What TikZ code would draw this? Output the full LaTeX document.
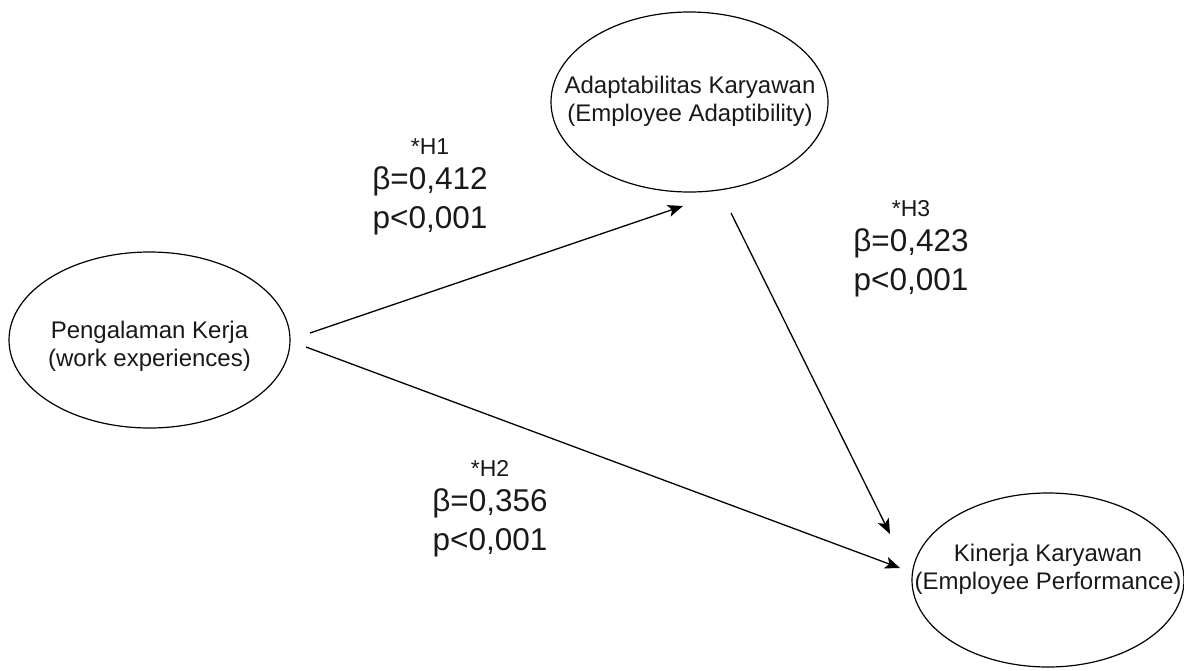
\documentclass[tikz,border=0pt]{standalone}
\usepackage{fontspec}
\setmainfont{Liberation Sans}
\usetikzlibrary{shapes.geometric,arrows.meta}
\tikzset{
  construct/.style={ellipse, draw=black, line width=1.2pt, inner sep=0pt},
  ctext/.style={align=center, anchor=base, font=\fontsize{24}{28}\selectfont, text=black!90},
  hyp/.style={align=center, anchor=base, font=\fontsize{31.5}{39}\selectfont, text=black!90},
  path/.style={line width=1.3pt, -{Stealth[length=15pt,width=12pt,inset=3.5pt]}}
}
\newcommand{\hsmall}[1]{{\fontsize{23}{26}\selectfont #1}}
\begin{document}
\begin{tikzpicture}[x=1pt,y=-1pt]
\useasboundingbox (0,0) rectangle (1184,670);
% constructs
\node[construct, minimum width=281pt, minimum height=176pt] (pk) at (149.5,340) {};
\node[construct, minimum width=277pt, minimum height=180pt] (ak) at (689.5,102) {};
\node[construct, minimum width=272pt, minimum height=174pt] (kk) at (1048,580) {};
\node[ctext] (pkt) at (149.5,366) {Pengalaman Kerja\\(work experiences)};
\node[ctext] (akt) at (690,121) {Adaptabilitas Karyawan\\(Employee Adaptibility)};
\node[ctext] (kkt) at (1048,589) {Kinerja Karyawan\\(Employee Performance)};
% connector ends
\coordinate (h1s) at (310,333);
\coordinate (h1e) at (683,206);
\coordinate (h2s) at (306,347);
\coordinate (h2e) at (900,568);
\coordinate (h3s) at (731,213);
\coordinate (h3e) at (890,534);
\draw[path] (h1s) -- (h1e);
\draw[path] (h2s) -- (h2e);
\draw[path] (h3s) -- (h3e);
% labels
\node[hyp] (l1) at (430,228) {\hsmall{*H1}\\[-4pt]β=0,412\\p<0,001};
\node[hyp] (l3) at (911,290) {\hsmall{*H3}\\[-4pt]β=0,423\\p<0,001};
\node[hyp] (l2) at (490,550) {\hsmall{*H2}\\[-4pt]β=0,356\\p<0,001};
\end{tikzpicture}
\end{document}
